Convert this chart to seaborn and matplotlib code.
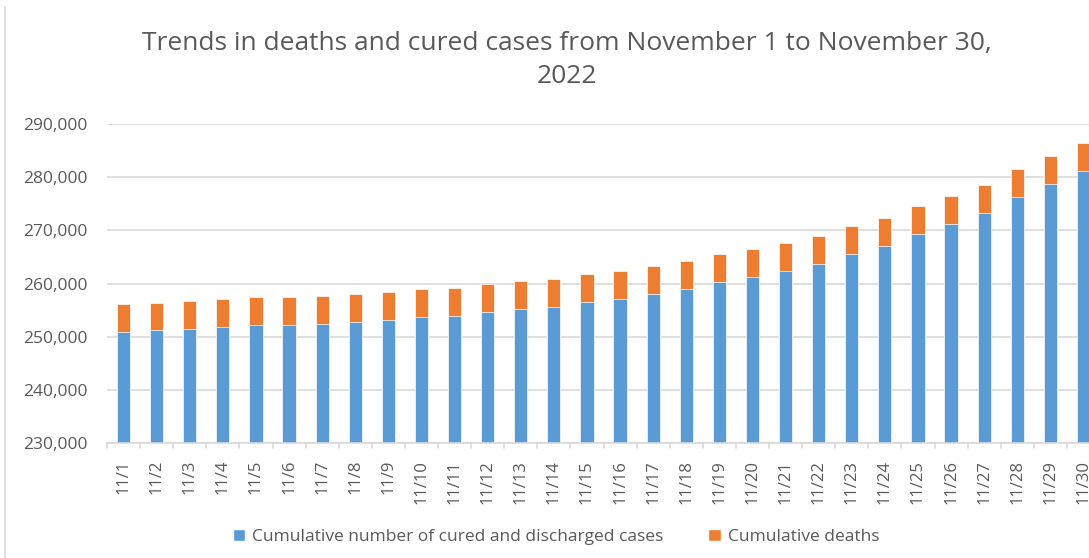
import matplotlib
matplotlib.use("Agg")
import matplotlib.pyplot as plt
from matplotlib.patches import Patch
from matplotlib.lines import Line2D
import seaborn as sns
import pandas as pd

# Data
dates = [f"11/{d}" for d in range(1, 31)]
cured = [250900, 251200, 251500, 251800, 252150, 252150, 252450, 252770, 253090, 253650,
         253960, 254650, 255210, 255530, 256520, 257090, 258090, 258970, 260220, 261160,
         262370, 263660, 265540, 267100, 269290, 271170, 273290, 276180, 278620, 281060]
deaths = [5226, 5226, 5226, 5226, 5226, 5226, 5226, 5226, 5226, 5226,
          5226, 5226, 5226, 5226, 5226, 5226, 5226, 5226, 5226, 5227,
          5229, 5232, 5233, 5233, 5233, 5233, 5233, 5233, 5233, 5233]

BLUE = "#5B9BD5"
ORANGE = "#ED7D31"
GRAY_TXT = "#595959"
GRID = "#D9D9D9"

df = pd.DataFrame({"date": dates, "cured": cured, "deaths": deaths})
df["total"] = df["cured"] + df["deaths"]

sns.set_style("white")
plt.rcParams["font.family"] = ["Open Sans", "DejaVu Sans"]

fig = plt.figure(figsize=(10.89, 5.58), dpi=100)
ax = fig.add_axes([107 / 1089, 1 - 443.3 / 558, 993 / 1089, 319.6 / 558])

sns.barplot(data=df, x="date", y="total", color=ORANGE, width=0.4,
            edgecolor="white", linewidth=0.5, saturation=1, ax=ax)
sns.barplot(data=df, x="date", y="cured", color=BLUE, width=0.4,
            edgecolor="white", linewidth=0.5, saturation=1, ax=ax)

ax.set_ylim(230000, 290000)
ax.set_xlim(-0.5, len(dates) - 0.5)
ax.set_yticks(range(230000, 290001, 10000))
ax.set_yticklabels([f"{v:,}" for v in range(230000, 290001, 10000)],
                   fontsize=12.5, color=GRAY_TXT)
ax.set_xticks(range(len(dates)))
ax.set_xticklabels(dates, rotation=90, fontsize=12, color=GRAY_TXT)
ax.tick_params(axis="y", length=0, pad=14)
ax.tick_params(axis="x", length=0, pad=12)
ax.set_xlabel("")
ax.set_ylabel("")

ax.yaxis.grid(True, color=GRID, linewidth=1.2)
ax.set_axisbelow(True)
for side in ["top", "right", "left"]:
    ax.spines[side].set_visible(False)
ax.spines["bottom"].set_color(GRID)
ax.spines["bottom"].set_linewidth(1.2)

# Excel-style tick marks between categories
for i in range(len(dates) + 1):
    ax.plot([i - 0.5, i - 0.5], [0, -0.016], transform=ax.get_xaxis_transform(),
            color=GRID, linewidth=1.2, clip_on=False)

fig.text(567 / 1089, 1 - 60 / 558,
         "Trends in deaths and cured cases from November 1 to November 30,\n2022",
         ha="center", va="center", fontsize=19, color=GRAY_TXT, linespacing=1.45)

handles = [Patch(facecolor=BLUE, label="Cumulative number of cured and discharged cases"),
           Patch(facecolor=ORANGE, label="Cumulative deaths")]
fig.legend(handles=handles, loc="center", bbox_to_anchor=(556 / 1089, 1 - 537 / 558),
           ncol=2, frameon=False, fontsize=12.5, labelcolor=GRAY_TXT,
           handlelength=0.7, handleheight=0.7, handletextpad=0.4, columnspacing=2.6)

# chart frame edge on the left
fig.add_artist(Line2D([4.5 / 1089, 4.5 / 1089], [0, 1 - 7 / 558],
                      transform=fig.transFigure, color=GRID, linewidth=1.2))

fig.savefig("out.png", dpi=100)
